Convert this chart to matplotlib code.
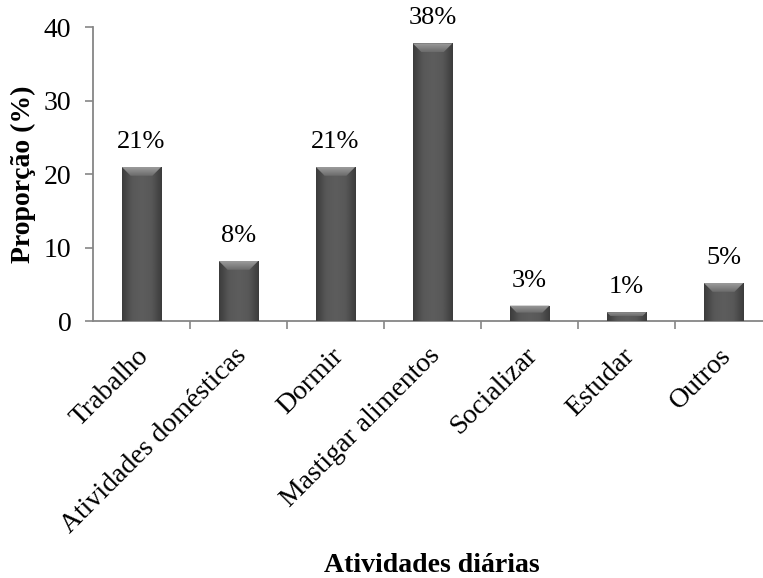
import matplotlib
matplotlib.use("Agg")
import matplotlib.pyplot as plt
import numpy as np
from matplotlib.patches import Polygon
from matplotlib.colors import LinearSegmentedColormap
from matplotlib.transforms import ScaledTranslation

categories = ["Trabalho", "Atividades domésticas", "Dormir", "Mastigar alimentos",
              "Socializar", "Estudar", "Outros"]
values = [21, 8.2, 21, 37.8, 2.1, 1.2, 5.2]
labels = ["21%", "8%", "21%", "38%", "3%", "1%", "5%"]
yticks = [0, 10, 20, 30, 40]

plt.rcParams['font.family'] = ['Liberation Serif', 'DejaVu Serif']

W, H = 7.63, 5.78
fig = plt.figure(figsize=(W, H), dpi=100)
ax_rect = [0.1219, 0.4446, 0.89, 0.5084]
ax = fig.add_axes(ax_rect)

x = np.arange(len(categories))
bw = 0.41
bars = ax.bar(x, values, width=bw, color="#525252", edgecolor="#3c3c3c", linewidth=0.6, zorder=3)

ax.set_xlim(-0.5, len(categories) - 0.5)
ax.set_ylim(0, 40)

# shading: horizontal gradient body + lighter top bevel
body_cmap = LinearSegmentedColormap.from_list("body", ["#3c3c3c", "#585858", "#5d5d5d", "#585858", "#3c3c3c"])
bevel_cmap = LinearSegmentedColormap.from_list("bevel", ["#6a6a6a", "#9c9c9c"])
px_per_x = ax_rect[2] * W * 100 / len(categories)
px_per_y = ax_rect[3] * H * 100 / 40
bev_px = 9
grad = np.linspace(0, 1, 64).reshape(1, -1)
vgrad = np.linspace(0, 1, 64).reshape(-1, 1)
for b in bars:
    x0, w, h = b.get_x(), b.get_width(), b.get_height()
    im = ax.imshow(grad, cmap=body_cmap, extent=[x0, x0 + w, 0, h], aspect="auto",
                   zorder=4, interpolation="bicubic")
    im.set_clip_path(b)
    dpx = min(bev_px, h * px_per_y / 2.2)
    dy = dpx / px_per_y
    dx = dpx / px_per_x
    poly = Polygon([[x0, h], [x0 + w, h], [x0 + w - dx, h - dy], [x0 + dx, h - dy]],
                   closed=True, facecolor="none", edgecolor="none")
    ax.add_patch(poly)
    im2 = ax.imshow(vgrad, cmap=bevel_cmap, extent=[x0, x0 + w, h - dy, h], aspect="auto",
                    origin="lower", zorder=5, interpolation="bicubic")
    im2.set_clip_path(poly)

for b, lab in zip(bars, labels):
    ax.annotate(lab, (b.get_x() + b.get_width() / 2, b.get_height()),
                xytext=(0, 10), textcoords="offset points", ha="center", va="bottom",
                fontsize=19)

ax.set_yticks(yticks)
ax.set_yticklabels([str(t) for t in yticks], fontsize=20)

ax.set_xticks(x)
ax.set_xticklabels(categories, rotation=45, ha="right", rotation_mode="anchor", fontsize=20)
ax.tick_params(axis="x", length=0, pad=16)
shift = ScaledTranslation(-5 / 100, 0, fig.dpi_scale_trans)
for lbl in ax.get_xticklabels():
    lbl.set_transform(lbl.get_transform() + shift)
ax.set_xticks(np.arange(len(categories)) + 0.5, minor=True)
ax.tick_params(axis="x", which="minor", length=6, color="#868686", width=1.2, direction="out")
ax.tick_params(axis="y", length=5.5, color="#868686", width=1.2, direction="out", pad=10)

for s in ["top", "right"]:
    ax.spines[s].set_visible(False)
for s in ["left", "bottom"]:
    ax.spines[s].set_color("#868686")
    ax.spines[s].set_linewidth(1.3)

ax.set_ylabel("Proporção (%)", fontsize=20, fontweight="bold", labelpad=6)
fig.text(432 / 763, 1 - 565 / 578, "Atividades diárias", ha="center", va="center",
         fontsize=20, fontweight="bold")

fig.savefig("out.png", dpi=100)
